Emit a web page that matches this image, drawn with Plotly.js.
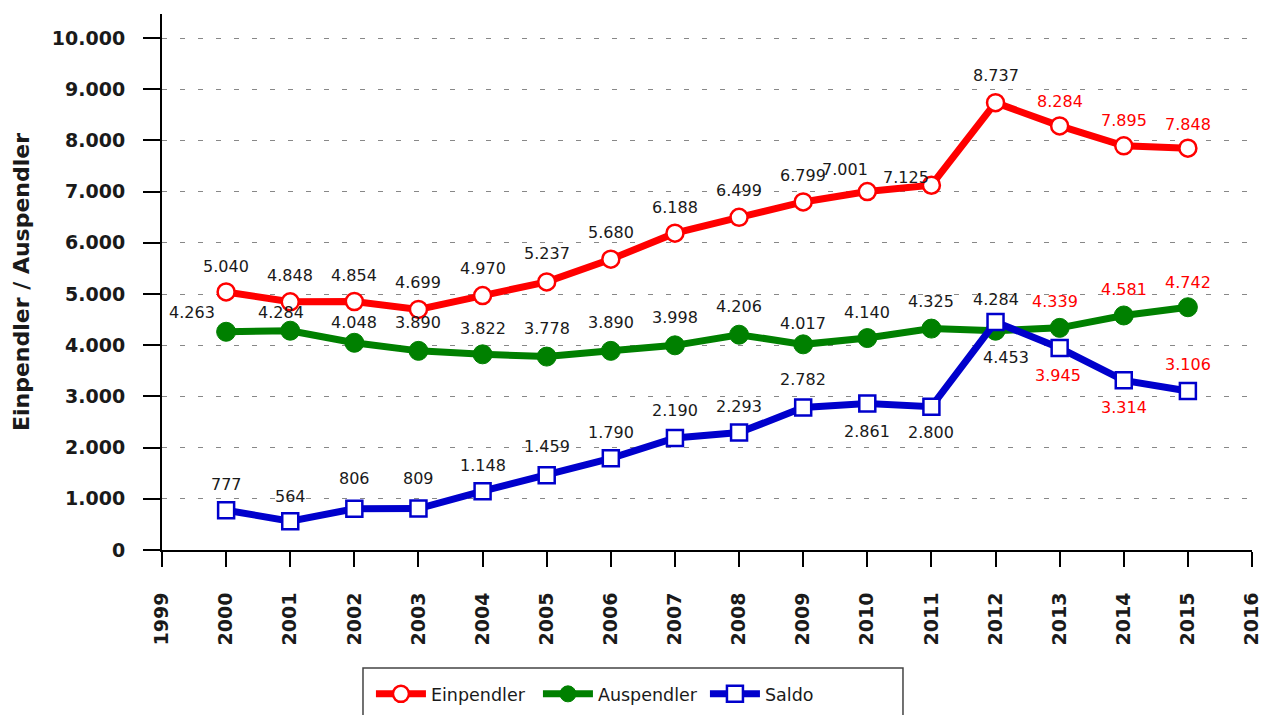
<!DOCTYPE html>
<html>
<head>
<meta charset="utf-8">
<script src="https://cdn.plot.ly/plotly-3.0.1.min.js"></script>
<style>html,body{margin:0;padding:0;background:#fff;}#chart{width:1263px;height:715px;}</style>
</head>
<body>
<div id="chart"></div>
<script>
const years = [2000,2001,2002,2003,2004,2005,2006,2007,2008,2009,2010,2011,2012,2013,2014,2015];
const einpendler = [5040,4848,4854,4699,4970,5237,5680,6188,6499,6799,7001,7125,8737,8284,7895,7848];
const auspendler = [4263,4284,4048,3890,3822,3778,3890,3998,4206,4017,4140,4325,4284,4339,4581,4742];
const saldo = [777,564,806,809,1148,1459,1790,2190,2293,2782,2861,2800,4453,3945,3314,3106];
const yTickVals = [0,1000,2000,3000,4000,5000,6000,7000,8000,9000,10000];
const yTickText = ["0","1.000","2.000","3.000","4.000","5.000","6.000","7.000","8.000","9.000","10.000"];
const xTickVals = [1999,2000,2001,2002,2003,2004,2005,2006,2007,2008,2009,2010,2011,2012,2013,2014,2015,2016];

// label placement (styling)
const einShiftX = [0,0,0,0,0,0,0,0,0,0,-22,-25,0,0,0,0];
const einShiftY = [25,26,26,27,27,28,27,26,27,26,22,8,27,24,25,24];
const ausShiftX = [-34,-9,0,0,0,0,0,0,0,0,0,0,0,-5,0,0];
const ausShiftY = [19,18,20,28,26,28,28,28,28,21,26,27,31,26,26,25];
const salShiftX = [0,0,0,0,0,0,0,0,0,0,0,0,10,-2,0,0];
const salShiftY = [26,25,30,30,26,29,26,27,26,28,-28,-26,-35,-27,-27,26];

function fmt(v){ return String(v).replace(/\B(?=(\d{3})+(?!\d))/g, "."); }
const FONT = "DejaVu Sans, Verdana, sans-serif";
const RED = "#ff0000", GREEN = "#008000", BLUE = "#0000cc", DARK = "#1a1a1a";

const traces = [
  {x: years, y: einpendler, name: "Einpendler", mode: "lines+markers", type: "scatter",
   line: {color: RED, width: 7}, marker: {symbol: "circle", size: 17, color: "#ffffff", line: {color: RED, width: 2.5}}},
  {x: years, y: auspendler, name: "Auspendler", mode: "lines+markers", type: "scatter",
   line: {color: GREEN, width: 7}, marker: {symbol: "circle", size: 19, color: GREEN, line: {color: GREEN, width: 1}}},
  {x: years, y: saldo, name: "Saldo", mode: "lines+markers", type: "scatter",
   line: {color: BLUE, width: 7}, marker: {symbol: "square", size: 16, color: "#ffffff", line: {color: BLUE, width: 2.5}}}
];

const annotations = [];
function addLabels(vals, sx, sy){
  vals.forEach((v, i) => {
    annotations.push({x: years[i], y: v, xref: "x", yref: "y", text: fmt(v), showarrow: false,
      xshift: sx[i], yshift: sy[i], font: {family: FONT, size: 16, color: years[i] >= 2013 ? RED : DARK}});
  });
}
addLabels(einpendler, einShiftX, einShiftY);
addLabels(auspendler, ausShiftX, ausShiftY);
addLabels(saldo, salShiftX, salShiftY);

const layout = {
  width: 1263, height: 715,
  margin: {l: 162, r: 11, t: 14, b: 165},
  paper_bgcolor: "#ffffff", plot_bgcolor: "#ffffff",
  font: {family: FONT, color: DARK},
  showlegend: true,
  legend: {orientation: "h", xref: "container", yref: "container", x: 0.2937, xanchor: "left",
    y: 0.0294, yanchor: "middle", entrywidth: 102, itemwidth: 50,
    font: {family: FONT, size: 17.5, color: DARK}, bgcolor: "rgba(0,0,0,0)"},
  xaxis: {range: [1999, 2016], tickvals: xTickVals, ticktext: xTickVals.map(String), tickangle: -90,
    showline: true, linecolor: "#000", linewidth: 2, ticks: "outside", ticklen: 15, tickwidth: 2, tickcolor: "#000",
    showgrid: false, zeroline: false, ticklabelstandoff: 18,
    tickfont: {family: FONT, size: 19, color: DARK, weight: "bold"}, automargin: false},
  yaxis: {range: [0, 10470], tickvals: yTickVals, ticktext: yTickText,
    showline: true, linecolor: "#000", linewidth: 2, ticks: "outside", ticklen: 17, tickwidth: 2, tickcolor: "#000",
    showgrid: true, gridcolor: "#888888", gridwidth: 1, griddash: "5px,13px", zeroline: false,
    ticklabelstandoff: 14,
    tickfont: {family: FONT, size: 19, color: DARK, weight: "bold"}, automargin: false,
    title: {text: "Einpendler / Auspendler", standoff: 16, font: {family: FONT, size: 22, color: DARK, weight: "bold"}}},
  annotations: annotations,
  shapes: [{type: "rect", xref: "paper", yref: "paper", x0: 0.1844, x1: 0.6798, y0: -0.34, y1: -0.2201,
    line: {color: "#444444", width: 1.5}, fillcolor: "rgba(0,0,0,0)"}]
};

Plotly.newPlot("chart", traces, layout, {displayModeBar: false, staticPlot: true});
</script>
</body>
</html>
